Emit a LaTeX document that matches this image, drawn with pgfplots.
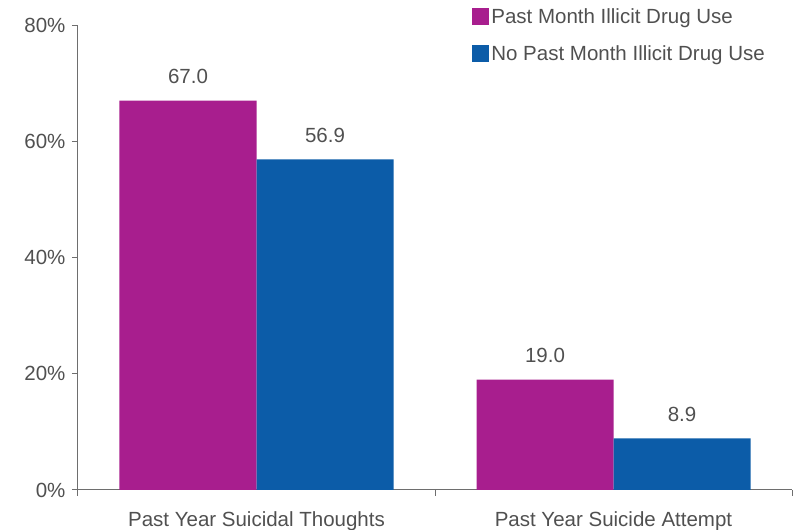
\documentclass[border=0pt]{standalone}
\usepackage{pgfplots}
\pgfplotsset{compat=1.18}
\usepackage{fontspec}
\setmainfont{Liberation Sans}
\definecolor{mag}{RGB}{168,30,142}
\definecolor{blu}{RGB}{12,92,168}
\definecolor{txt}{RGB}{80,80,80}
\definecolor{axc}{RGB}{110,110,110}
\begin{document}
\begin{tikzpicture}
\useasboundingbox (0,0) rectangle (807pt,530pt);
\begin{axis}[
  at={(78pt,40pt)}, anchor=south west,
  scale only axis, width=714pt, height=465pt,
  ymin=0, ymax=80, xmin=-0.5, xmax=1.5,
  ybar=0pt, bar width=137pt,
  axis lines*=left,
  axis line style={axc, line width=1pt},
  every tick/.style={axc, line width=1pt},
  tick align=outside, major tick length=6pt,
  ytick={0,20,40,60,80},
  yticklabels={0\%,20\%,40\%,60\%,80\%},
  xtick={-0.5,0.5,1.5},
  x tick label as interval,
  xticklabels={Past Year Suicidal Thoughts, Past Year Suicide Attempt},
  tick label style={font=\fontsize{20.5}{24}\selectfont, text=txt},
  yticklabel style={xshift=-3pt},
  xticklabel style={yshift=-12pt},
  nodes near coords={\pgfmathprintnumber[assume math mode=true,fixed,fixed zerofill,precision=1]{\pgfplotspointmeta}},
  every node near coord/.append style={font=\fontsize{20.5}{24}\selectfont, text=txt, yshift=13pt},
  legend style={draw=none, fill=none, at={(axis description cs:0.552,1.04)}, anchor=north west,
    font=\fontsize{20.5}{24}\selectfont, text=txt, row sep=17pt, inner sep=0pt,
    nodes={inner sep=2pt}},
  legend cell align=left,
  legend image code/.code={\fill[#1] (0pt,-8pt) rectangle (17pt,9pt);},
]
\addplot[fill=mag, draw=none] coordinates {(0,67.0) (1,19.0)};
\addplot[fill=blu, draw=none] coordinates {(0,56.9) (1,8.9)};
\legend{Past Month Illicit Drug Use, No Past Month Illicit Drug Use}
\end{axis}
\end{tikzpicture}
\end{document}
